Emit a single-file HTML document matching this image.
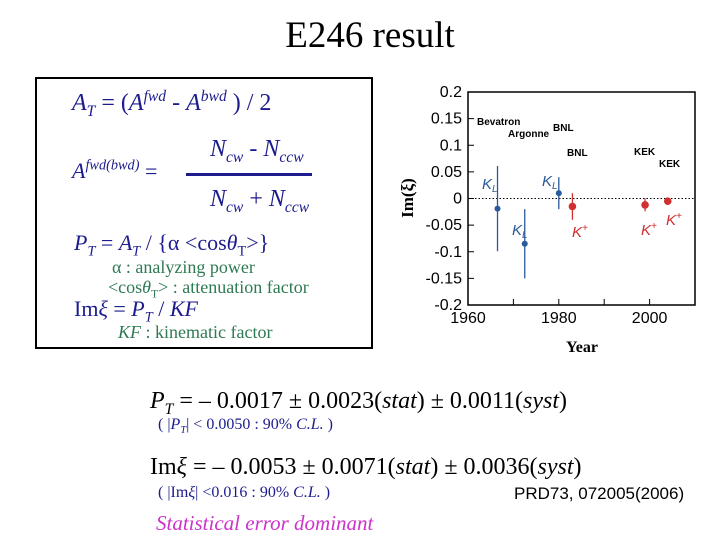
<!DOCTYPE html>
<html><head><meta charset="utf-8">
<style>
body{margin:0;width:720px;height:540px;background:#fff;position:relative;overflow:hidden;font-family:"Liberation Serif",serif;}
.a{position:absolute;white-space:nowrap;}
.b{color:#1c1c8e;}
.g{color:#2e7a52;}
i{font-style:italic;}
sub,sup{font-size:65%;}
</style></head><body>
<div class="a" style="left:0;width:740px;text-align:center;top:14px;font-size:37px;">E246 result</div>
<div class="a" style="left:35px;top:77px;width:334px;height:268px;border:2px solid #000;"></div>
<div class="a b" style="left:72px;top:88px;font-size:24px;"><i>A<sub>T</sub></i> = (<i>A<sup>fwd</sup></i> - <i>A<sup>bwd</sup></i> ) / 2</div>
<div class="a b" style="left:72px;top:158px;font-size:22px;"><i>A<sup>fwd(bwd)</sup></i> =</div>
<div class="a b" style="left:210px;top:136px;font-size:24px;"><i>N<sub>cw</sub></i> - <i>N<sub>ccw</sub></i></div>
<div class="a" style="left:186px;top:173px;width:126px;height:3px;background:#1c1c8e;"></div>
<div class="a b" style="left:210px;top:186px;font-size:24px;"><i>N<sub>cw</sub></i> + <i>N<sub>ccw</sub></i></div>
<div class="a b" style="left:74px;top:230px;font-size:22px;"><i>P<sub>T</sub></i> = <i>A<sub>T</sub></i> / {α &lt;cos<i>θ</i><sub>T</sub>&gt;}</div>
<div class="a g" style="left:112px;top:257px;font-size:18px;">α : analyzing power</div>
<div class="a g" style="left:108px;top:277px;font-size:18px;">&lt;cos<i>θ</i><sub>T</sub>&gt; : attenuation factor</div>
<div class="a b" style="left:74px;top:296px;font-size:22px;">Im<i>ξ</i> = <i>P<sub>T</sub></i> / <i>KF</i></div>
<div class="a g" style="left:118px;top:322px;font-size:18px;"><i>KF</i> :  kinematic factor</div>

<svg class="a" style="left:0;top:0" width="720" height="540" id="chart"></svg>

<div class="a" style="left:150px;top:388px;font-size:24px;"><i>P<sub>T</sub></i> = – 0.0017 ± 0.0023(<i>stat</i>) ± 0.0011(<i>syst</i>)</div>
<div class="a b" style="left:158px;top:416px;font-size:16px;">( |<i>P<sub>T</sub></i>| &lt; 0.0050 : 90% <i>C.L.</i> )</div>
<div class="a" style="left:150px;top:454px;font-size:24px;">Im<i>ξ</i> = – 0.0053 ± 0.0071(<i>stat</i>) ± 0.0036(<i>syst</i>)</div>
<div class="a b" style="left:158px;top:484px;font-size:16px;">( |Im<i>ξ</i>| &lt;0.016 : 90% <i>C.L.</i> )</div>
<div class="a" style="left:514px;top:484px;font-size:17px;font-family:'Liberation Sans',sans-serif;">PRD73, 072005(2006)</div>
<div class="a" style="left:156px;top:511px;font-size:21px;color:#cc33cc;font-style:italic;">Statistical error dominant</div>

<script>
const years=[1966.5,1972.5,1980,1983,1999,2004];
const values=[-0.019,-0.085,0.01,-0.015,-0.012,-0.005];
const errors=[0.08,0.065,0.03,0.025,0.012,0.005];
const kinds=["KL","KL","KL","K+","K+","K+"];
const yTicks=[0.2,0.15,0.1,0.05,0,-0.05,-0.1,-0.15,-0.2];
const yTickLabels=["0.2","0.15","0.1","0.05","0","-0.05","-0.1","-0.15","-0.2"];
const xTicks=[1960,1980,2000];
const x0=468,x1=695,y0=92,y1=305;
const X=v=>x0+(v-1960)/50*(x1-x0);
const Y=v=>y0+(0.2-v)/0.4*(y1-y0);
const svg=document.getElementById('chart');
const NS='http://www.w3.org/2000/svg';
function mk(t,a,txt){const e=document.createElementNS(NS,t);for(const k in a)e.setAttribute(k,a[k]);if(txt!==undefined)e.textContent=txt;svg.appendChild(e);return e;}
let e=mk('rect',{x:x0,y:y0,width:x1-x0,height:y1-y0,fill:'none',stroke:'#000','stroke-width':1.5});


yTicks.forEach((t,i)=>{
 e=mk('line',{x1:x0,x2:x0+6,y1:Y(t),y2:Y(t),stroke:'#000'});
 
 
 e=mk('text',{x:x0-6,y:Y(t)+5,'text-anchor':'end','font-size':16,'font-family':'Liberation Sans,sans-serif'},yTickLabels[i]);
 
 
});
xTicks.forEach(t=>{
 e=mk('text',{x:X(t),y:y1+18,'text-anchor':'middle','font-size':16,'font-family':'Liberation Sans,sans-serif'},String(t));
 
 
});
for(let yr=1970;yr<2010;yr+=10){e=mk('line',{x1:X(yr),x2:X(yr),y1:y1,y2:y1-6,stroke:'#000'});}
e=mk('line',{x1:x0,x2:x1,y1:Y(0),y2:Y(0),stroke:'#000','stroke-dasharray':'1.5,2'});


e=mk('text',{x:582,y:352,'text-anchor':'middle','font-size':16,'font-weight':'bold'},'Year');


e=mk('text',{x:0,y:0,'text-anchor':'middle','font-size':17,'font-weight':'bold',transform:'translate(413,198) rotate(-90)'},'Im(ξ)');


years.forEach((yr,i)=>{
 const c=kinds[i]==="KL"?'#2a5a9a':'#d03030';
 e=mk('line',{x1:X(yr),x2:X(yr),y1:Y(values[i]+errors[i]),y2:Y(values[i]-errors[i]),stroke:c,'stroke-width':1.3});
 
 
 e=mk('circle',{cx:X(yr),cy:Y(values[i]),r:kinds[i]==="KL"?3:3.8,fill:c});
 
 
});
const labs=[["Bevatron",477,125,'#000',10,""],["Argonne",508,137,'#000',10,""],["BNL",553,131,'#000',10,""],["BNL",567,156,'#000',10,""],["KEK",634,155,'#000',10,""],["KEK",659,167,'#000',10,""],
["K",482,189,'#2a5a9a',15,"L"],["K",542,186,'#2a5a9a',15,"L"],["K",512,235,'#2a5a9a',15,"L"],["K",572,237,'#d03030',15,"+"],["K",641,235,'#d03030',15,"+"],["K",666,225,'#d03030',15,"+"]];
labs.forEach(l=>{e=mk('text',{x:l[1],y:l[2],fill:l[3],'font-size':l[4],'font-family':'Liberation Sans,sans-serif','font-style':l[4]>12?'italic':'normal','font-weight':l[4]>12?'normal':'bold'},l[0]);
 
 
 if(l[5]){const ts=document.createElementNS(NS,'tspan');ts.setAttribute('font-size',10);ts.setAttribute('dy',l[5]==="L"?3:-6);ts.textContent=l[5];e.appendChild(ts);}
});
</script>
</body></html>
